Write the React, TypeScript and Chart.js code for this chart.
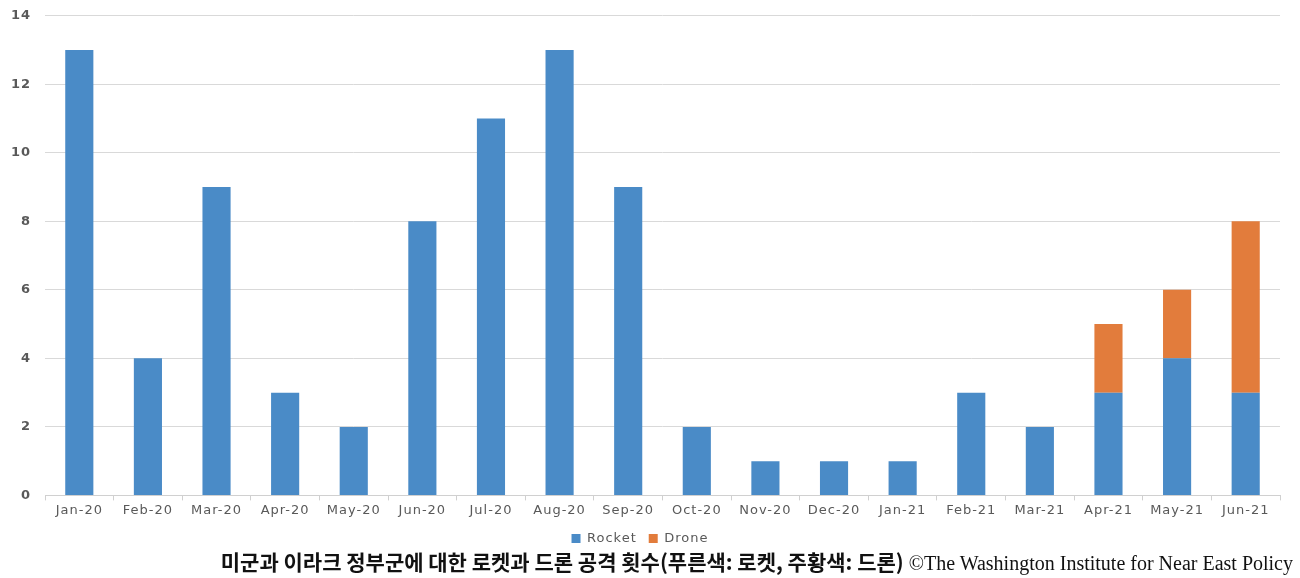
import React, { useEffect, useRef } from "react";
import { Chart, registerables } from "chart.js";

Chart.register(...registerables);

const categories = ["Jan-20","Feb-20","Mar-20","Apr-20","May-20","Jun-20","Jul-20","Aug-20","Sep-20","Oct-20","Nov-20","Dec-20","Jan-21","Feb-21","Mar-21","Apr-21","May-21","Jun-21"];
const rocket = [13,4,9,3,2,8,11,13,9,2,1,1,1,3,2,3,4,3];
const drone = [0,0,0,0,0,0,0,0,0,0,0,0,0,0,0,2,2,5];
const captionKo = "미군과 이라크 정부군에 대한 로켓과 드론 공격 횟수(푸른색: 로켓, 주황색: 드론)";
const captionEn = " ©The Washington Institute for Near East Policy";

const spacingPlugin = {
  id: "spacing",
  beforeUpdate(chart: any) { chart.ctx.letterSpacing = "1px"; },
  beforeDraw(chart: any) { chart.ctx.letterSpacing = "1px"; },
};

export default function App() {
  const ref = useRef<HTMLCanvasElement>(null);
  useEffect(() => {
    if (!ref.current) return;
    const chart = new Chart(ref.current, {
      type: "bar",
      data: {
        labels: categories,
        datasets: [
          { label: "Rocket", data: rocket, backgroundColor: "#4a8bc7", stack: "s" },
          { label: "Drone", data: drone, backgroundColor: "#e27c3c", stack: "s" },
        ],
      },
      plugins: [spacingPlugin],
      options: {
        animation: false,
        responsive: false,
        maintainAspectRatio: false,
        layout: { padding: { top: 2, right: 20, left: 0, bottom: 0 } },
        datasets: { bar: { barPercentage: 1, categoryPercentage: 0.41 } },
        scales: {
          x: {
            stacked: true,
            grid: { display: true, offset: true, drawOnChartArea: false, drawTicks: true, tickLength: 5, color: "#d0d0d0" },
            border: { display: true, color: "#d0d0d0" },
            ticks: { color: "#595959", font: { family: "DejaVu Sans", size: 13 }, padding: 2, maxRotation: 0 },
          },
          y: {
            stacked: true,
            min: 0,
            max: 14,
            afterFit: (axis: any) => { axis.width = 45; },
            grid: { color: "#d9d9d9", drawTicks: false },
            border: { display: false },
            ticks: { stepSize: 2, color: "#595959", font: { family: "DejaVu Sans", size: 13, weight: "bold" }, padding: 14 },
          },
        },
        plugins: {
          legend: {
            position: "bottom",
            labels: { boxWidth: 9, boxHeight: 9, color: "#595959", font: { family: "DejaVu Sans", size: 13 }, padding: 12 },
          },
          tooltip: { enabled: false },
        },
      },
    });
    return () => chart.destroy();
  }, []);
  return (
    <div style={{ position: "fixed", left: 0, top: 0, width: 1300, height: 578, background: "#fff", overflow: "hidden" }}>
      <canvas ref={ref} width={1300} height={561} style={{ position: "absolute", left: 0, top: -6, width: 1300, height: 561 }} />
      <div style={{ position: "absolute", right: 7, top: 548, whiteSpace: "nowrap", fontFamily: "'Liberation Serif', 'Noto Sans CJK KR', serif", fontSize: 20, color: "#111", lineHeight: "26px" }}>
        <span style={{ fontFamily: "'Noto Sans CJK KR', sans-serif", fontWeight: 700, fontSize: 21 }}>{captionKo}</span>
        <span>{captionEn}</span>
      </div>
    </div>
  );
}
